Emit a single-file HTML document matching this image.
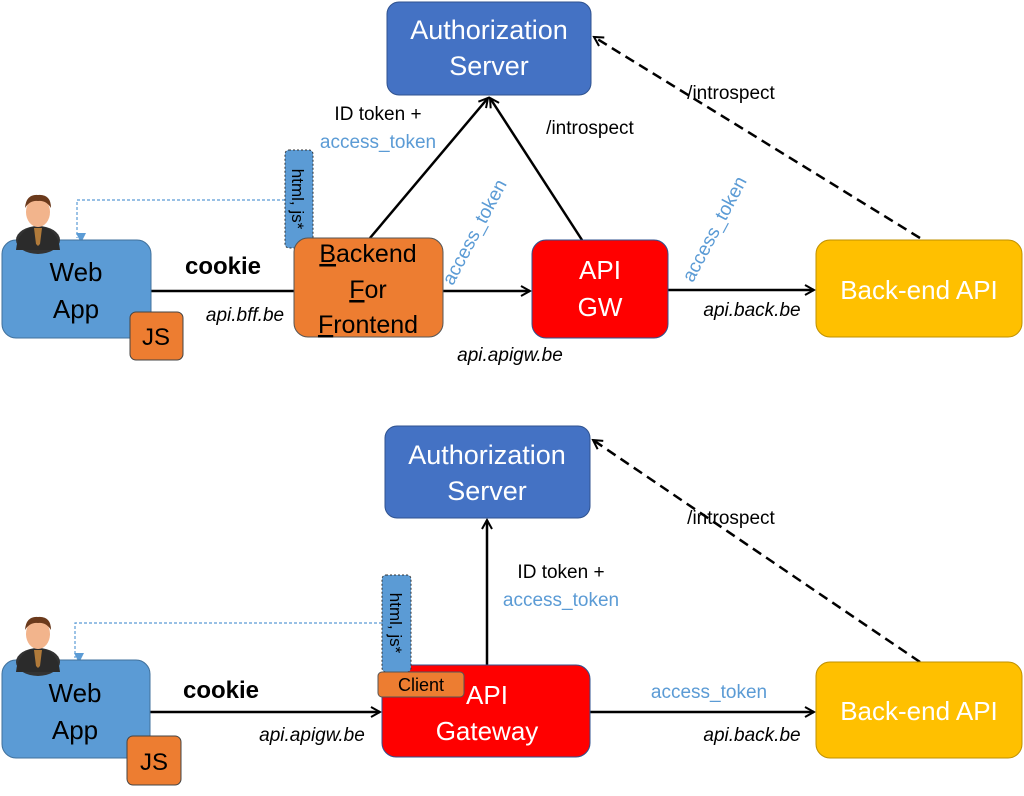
<!DOCTYPE html>
<html><head><meta charset="utf-8"><style>
body{margin:0;background:#fff}
svg{display:block}
text{font-family:"Liberation Sans",sans-serif}
</style></head><body>
<svg width="1024" height="796" viewBox="0 0 1024 796" xmlns="http://www.w3.org/2000/svg">
<defs>
<marker id="a" markerWidth="12" markerHeight="12" refX="10" refY="6" orient="auto" markerUnits="userSpaceOnUse"><path d="M1,1 L10,6 L1,11" fill="none" stroke="#000" stroke-width="2"/></marker>
<marker id="b" markerWidth="10" markerHeight="10" refX="5" refY="9" orient="auto" markerUnits="userSpaceOnUse"><path d="M0,0 L10,5 L0,10z" fill="#5B9BD5"/></marker>
<g id="person">
<ellipse cx="0" cy="48" rx="22" ry="14" fill="#333"/>
<path d="M-22,58 Q-20,36 0,34 Q20,36 22,58z" fill="#2b2b2b"/>
<path d="M-4,36 L4,36 L2,52 L0,54 L-2,52z" fill="#b07a3a"/>
<ellipse cx="0" cy="20" rx="12" ry="15" fill="#f2b48c"/>
<path d="M-13,16 Q-12,2 0,3 Q13,2 13,16 Q8,8 0,9 Q-8,8 -13,16z" fill="#6b3a1c"/>
</g>
</defs>

<!-- TOP -->
<g stroke="#000" stroke-width="2.5" fill="none">
<line x1="151" y1="291" x2="294" y2="291"/>
<line x1="443" y1="291" x2="530" y2="291" marker-end="url(#a)"/>
<line x1="668" y1="290" x2="814" y2="290" marker-end="url(#a)"/>
<line x1="370" y1="238" x2="488" y2="98" marker-end="url(#a)"/>
<line x1="582" y1="240" x2="490" y2="98" marker-end="url(#a)"/>
<line x1="920" y1="238" x2="594" y2="37" stroke-dasharray="10,6" marker-end="url(#a)"/>
</g>
<path d="M285,200 L77,200 L77,238" fill="none" stroke="#5B9BD5" stroke-width="1.2" stroke-dasharray="3,2" marker-end="url(#b)"/>

<rect x="387" y="2" width="204" height="93" rx="12" fill="#4472C4" stroke="#2F528F"/>
<text x="489" y="39" font-size="27" fill="#fff" text-anchor="middle">Authorization</text>
<text x="489" y="75" font-size="27" fill="#fff" text-anchor="middle">Server</text>

<rect x="2" y="240" width="149" height="98" rx="14" fill="#5B9BD5" stroke="#41719C"/>
<text x="76" y="281" font-size="26" text-anchor="middle">Web</text>
<text x="76" y="318" font-size="26" text-anchor="middle">App</text>
<use href="#person" x="38" y="192"/>
<rect x="130" y="312" width="53" height="48" rx="6" fill="#ED7D31" stroke="#444"/>
<text x="156" y="345" font-size="24" text-anchor="middle">JS</text>

<rect x="285" y="150" width="28" height="98" rx="4" fill="#5B9BD5" stroke="#333" stroke-dasharray="2,2"/>
<text transform="translate(292,199) rotate(90)" font-size="17" text-anchor="middle">html, js*</text>

<rect x="294" y="238" width="149" height="99" rx="14" fill="#ED7D31" stroke="#555"/>
<text x="368" y="262" font-size="25" text-anchor="middle"><tspan text-decoration="underline">B</tspan>ackend</text>
<text x="368" y="298" font-size="25" text-anchor="middle"><tspan text-decoration="underline">F</tspan>or</text>
<text x="368" y="333" font-size="25" text-anchor="middle"><tspan text-decoration="underline">F</tspan>rontend</text>

<text x="223" y="274" font-size="24" font-weight="bold" text-anchor="middle">cookie</text>
<text x="245" y="321" font-size="19" font-style="italic" text-anchor="middle">api.bff.be</text>
<text x="510" y="361" font-size="19" font-style="italic" text-anchor="middle">api.apigw.be</text>
<text x="752" y="316" font-size="19" font-style="italic" text-anchor="middle">api.back.be</text>
<text transform="translate(480,235) rotate(-62)" font-size="19" fill="#5B9BD5" text-anchor="middle">access_token</text>
<text transform="translate(720,232) rotate(-62)" font-size="19" fill="#5B9BD5" text-anchor="middle">access_token</text>
<text x="378" y="120" font-size="19" text-anchor="middle">ID token +</text>
<text x="378" y="148" font-size="19" fill="#5B9BD5" text-anchor="middle">access_token</text>
<text x="590" y="134" font-size="19" text-anchor="middle">/introspect</text>
<text x="731" y="99" font-size="19" text-anchor="middle">/introspect</text>

<rect x="532" y="240" width="136" height="98" rx="14" fill="#FF0000" stroke="#2F528F"/>
<text x="600" y="279" font-size="26" fill="#fff" text-anchor="middle">API</text>
<text x="600" y="316" font-size="26" fill="#fff" text-anchor="middle">GW</text>

<rect x="816" y="240" width="206" height="97" rx="14" fill="#FFC000" stroke="#BF9000"/>
<text x="919" y="299" font-size="26" fill="#fff" text-anchor="middle">Back-end API</text>

<!-- BOTTOM -->
<g stroke="#000" stroke-width="2.5" fill="none">
<line x1="150" y1="712" x2="380" y2="712" marker-end="url(#a)"/>
<line x1="590" y1="712" x2="814" y2="712" marker-end="url(#a)"/>
<line x1="487" y1="665" x2="487" y2="520" marker-end="url(#a)"/>
<line x1="920" y1="662" x2="593" y2="440" stroke-dasharray="10,6" marker-end="url(#a)"/>
</g>
<path d="M382,623 L75,623 L75,658" fill="none" stroke="#5B9BD5" stroke-width="1.2" stroke-dasharray="3,2" marker-end="url(#b)"/>

<rect x="385" y="426" width="205" height="92" rx="12" fill="#4472C4" stroke="#2F528F"/>
<text x="487" y="464" font-size="27" fill="#fff" text-anchor="middle">Authorization</text>
<text x="487" y="500" font-size="27" fill="#fff" text-anchor="middle">Server</text>

<rect x="2" y="660" width="148" height="98" rx="14" fill="#5B9BD5" stroke="#41719C"/>
<text x="75" y="702" font-size="26" text-anchor="middle">Web</text>
<text x="75" y="739" font-size="26" text-anchor="middle">App</text>
<use href="#person" x="38" y="614"/>
<rect x="127" y="736" width="54" height="49" rx="6" fill="#ED7D31" stroke="#444"/>
<text x="154" y="770" font-size="24" text-anchor="middle">JS</text>

<rect x="382" y="665" width="208" height="92" rx="14" fill="#FF0000" stroke="#2F528F"/>
<text x="487" y="704" font-size="26" fill="#fff" text-anchor="middle">API</text>
<text x="487" y="740" font-size="26" fill="#fff" text-anchor="middle">Gateway</text>

<rect x="382" y="575" width="29" height="97" rx="4" fill="#5B9BD5" stroke="#333" stroke-dasharray="2,2"/>
<text transform="translate(390,623) rotate(90)" font-size="17" text-anchor="middle">html, js*</text>
<rect x="378" y="672" width="86" height="25" rx="4" fill="#ED7D31" stroke="#555"/>
<text x="421" y="691" font-size="18" text-anchor="middle">Client</text>

<text x="221" y="698" font-size="24" font-weight="bold" text-anchor="middle">cookie</text>
<text x="312" y="741" font-size="19" font-style="italic" text-anchor="middle">api.apigw.be</text>
<text x="752" y="741" font-size="19" font-style="italic" text-anchor="middle">api.back.be</text>
<text x="709" y="698" font-size="19" fill="#5B9BD5" text-anchor="middle">access_token</text>
<text x="561" y="578" font-size="19" text-anchor="middle">ID token +</text>
<text x="561" y="606" font-size="19" fill="#5B9BD5" text-anchor="middle">access_token</text>
<text x="731" y="524" font-size="19" text-anchor="middle">/introspect</text>

<rect x="816" y="662" width="206" height="96" rx="14" fill="#FFC000" stroke="#BF9000"/>
<text x="919" y="720" font-size="26" fill="#fff" text-anchor="middle">Back-end API</text>
</svg>
</body></html>
